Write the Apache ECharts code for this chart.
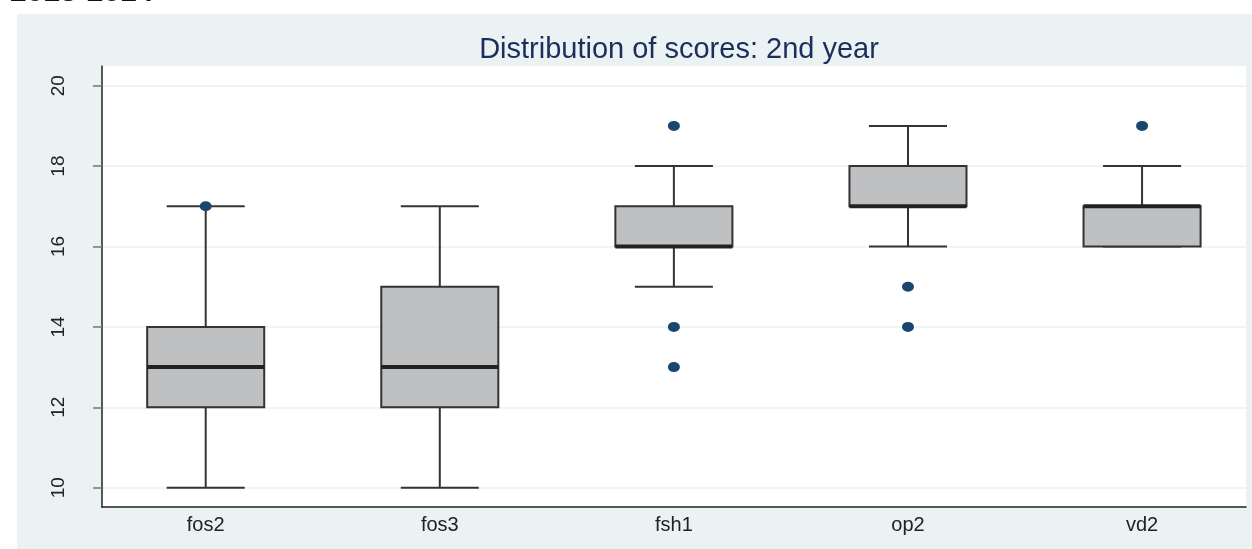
<!DOCTYPE html>
<html>
<head>
<meta charset="utf-8">
<script src="https://cdn.jsdelivr.net/npm/echarts@6/dist/echarts.min.js"></script>
<style>
  html, body { margin: 0; padding: 0; background: #fff; }
  #chart { width: 1252px; height: 549px; }
</style>
</head>
<body>
<div id="chart"></div>
<script>
  // data
  var categories = ['fos2', 'fos3', 'fsh1', 'op2', 'vd2'];
  // [min, q1, median, q3, max] per category
  var boxStats = [
    [10, 12, 13, 14, 17],
    [10, 12, 13, 15, 17],
    [15, 16, 16, 17, 18],
    [16, 17, 17, 18, 19],
    [16, 16, 17, 17, 18]
  ];
  // [category index, value]
  var outliers = [
    [0, 17],
    [2, 19], [2, 14], [2, 13],
    [3, 15], [3, 14],
    [4, 19]
  ];
  var yTicks = [10, 12, 14, 16, 18, 20];
  var xTicks = [0, 1, 2, 3, 4];

  var boxData = boxStats.map(function (s, i) { return [i].concat(s); });

  function renderBox(params, api) {
    var x = api.value(0);
    var lo = api.coord([x, api.value(1)]);
    var q1 = api.coord([x, api.value(2)]);
    var med = api.coord([x, api.value(3)]);
    var q3 = api.coord([x, api.value(4)]);
    var hi = api.coord([x, api.value(5)]);
    var half = api.size([0.25, 0])[0];
    var cap = api.size([1 / 6, 0])[0];
    var cx = lo[0];
    var stroke = { stroke: '#333', lineWidth: 2 };
    return {
      type: 'group',
      children: [
        { type: 'line', shape: { x1: cx, y1: lo[1], x2: cx, y2: q1[1] }, style: stroke },
        { type: 'line', shape: { x1: cx, y1: q3[1], x2: cx, y2: hi[1] }, style: stroke },
        { type: 'line', shape: { x1: cx - cap, y1: lo[1], x2: cx + cap, y2: lo[1] }, style: stroke },
        { type: 'line', shape: { x1: cx - cap, y1: hi[1], x2: cx + cap, y2: hi[1] }, style: stroke },
        { type: 'rect', shape: { x: cx - half, y: q3[1], width: half * 2, height: q1[1] - q3[1] },
          style: { fill: '#BFC0C2', stroke: '#333', lineWidth: 2 } },
        { type: 'line', shape: { x1: cx - half, y1: med[1], x2: cx + half, y2: med[1] },
          style: { stroke: '#222', lineWidth: 4 } }
      ]
    };
  }

  var chart = echarts.init(document.getElementById('chart'));
  var option = {
    animation: false,
    backgroundColor: '#fff',
    textStyle: { fontFamily: 'Liberation Sans' },
    graphic: [
      { type: 'rect', z: -10, shape: { x: 17, y: 14, width: 1240, height: 540 }, style: { fill: '#EAF2F3' } },
      { type: 'text', x: 10, y: 8, style: { text: '2013-2014', fontFamily: 'Liberation Sans', fontSize: 30, fontWeight: 'bold', fill: '#111', verticalAlign: 'bottom' } }
    ],
    title: {
      text: 'Distribution of scores: 2nd year',
      left: 674,
      textAlign: 'center',
      top: 30,
      textStyle: { fontFamily: 'Liberation Sans', fontSize: 29, fontWeight: 'normal', color: '#1C2E5A' }
    },
    grid: {
      left: 102, right: 6, top: 66, bottom: 42,
      show: true, backgroundColor: '#fff', borderWidth: 0
    },
    xAxis: {
      type: 'value',
      min: -0.443,
      max: 4.444,
      axisLine: { show: true, onZero: false, lineStyle: { color: '#222', width: 1.5 } },
      axisTick: { show: false },
      splitLine: { show: false },
      axisLabel: {
        customValues: xTicks,
        margin: 8,
        fontSize: 20,
        color: '#222',
        formatter: function (v) { return categories[Math.round(v)]; }
      }
    },
    yAxis: {
      type: 'value',
      min: 9.52,
      max: 20.49,
      axisLine: { show: true, onZero: false, lineStyle: { color: '#222', width: 1.5 } },
      axisTick: { show: true, customValues: yTicks, length: 9, lineStyle: { color: '#777', width: 1.5 } },
      splitLine: { show: true, lineStyle: { color: '#EAF2F3', width: 1.5 } },
      axisLabel: { customValues: yTicks, rotate: 90, margin: 34, fontSize: 19, color: '#222' }
    },
    series: [
      {
        type: 'custom',
        renderItem: renderBox,
        encode: { x: 0, y: [1, 2, 3, 4, 5] },
        data: boxData,
        z: 2
      },
      {
        type: 'scatter',
        data: outliers,
        symbol: 'circle',
        symbolSize: [12, 10],
        itemStyle: { color: '#1A476F', opacity: 1 },
        z: 3
      }
    ]
  };
  chart.setOption(option);
</script>
</body>
</html>
